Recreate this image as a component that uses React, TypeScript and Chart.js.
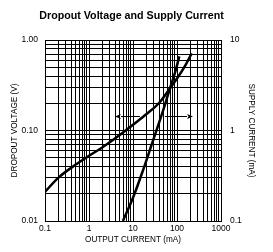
import React, { useEffect, useRef } from "react";
import { Chart, registerables } from "chart.js";

Chart.register(...registerables);

const chartTitle = "Dropout Voltage and Supply Current";
const xAxisTitle = "OUTPUT CURRENT (mA)";
const leftAxisTitle = "DROPOUT VOLTAGE (V)";
const rightAxisTitle = "SUPPLY CURRENT (mA)";

const xTickLabels = ["0.1", "1", "10", "100", "1000"];
const leftTickLabels = ["0.01", "0.10", "1.00"];
const rightTickLabels = ["0.1", "1", "10"];

// Dropout voltage (V) vs output current (mA) — left axis
const dropoutCurrent = [0.1, 0.2, 0.5, 1, 2, 5, 10, 20, 40, 70, 100, 150, 216];
const dropoutVoltage = [0.021, 0.03, 0.042, 0.0525, 0.065, 0.089, 0.116, 0.151, 0.204, 0.295, 0.375, 0.51, 0.713];

// Supply current (mA) vs output current (mA) — right axis
const supplyLoad = [5.9, 10.2, 17.1, 26.6, 48.8, 69.3, 90.1, 113];
const supplyCurrent = [0.1, 0.185, 0.37, 0.7, 1.69, 2.93, 4.35, 6.6];

// Arrows: level on the left axis, from/to on the x axis
const arrowLevel = [0.145, 0.145];
const arrowFrom = [14.4, 53];
const arrowTo = [3.9, 231];

const FONT = "'Liberation Sans', Arial, sans-serif";

function logTicks(labels: string[]) {
  const decades = labels.map(parseFloat);
  const out: number[] = [];
  for (let i = 0; i < decades.length - 1; i++) {
    for (let m = 1; m < 10; m++) out.push(+(decades[i] * m).toPrecision(6));
  }
  out.push(decades[decades.length - 1]);
  return out;
}

function labelFor(labels: string[]) {
  const vals = labels.map(parseFloat);
  return (value: any) => {
    const v = Number(value);
    const i = vals.findIndex((d) => Math.abs(d - v) / d < 1e-6);
    return i >= 0 ? labels[i] : "";
  };
}

const arrowPlugin = {
  id: "arrows",
  afterDatasetsDraw(chart: any) {
    const { ctx, scales } = chart;
    const xs = scales.x;
    const ys = scales.y;
    ctx.save();
    ctx.strokeStyle = "#000";
    ctx.fillStyle = "#000";
    ctx.lineWidth = 1;
    for (let i = 0; i < arrowLevel.length; i++) {
      const y = Math.round(ys.getPixelForValue(arrowLevel[i])) + 0.5;
      const x0 = xs.getPixelForValue(arrowFrom[i]);
      const x1 = xs.getPixelForValue(arrowTo[i]);
      const dir = x1 > x0 ? 1 : -1;
      const len = 6;
      ctx.beginPath();
      ctx.moveTo(x0, y);
      ctx.lineTo(x1 - dir * len, y);
      ctx.stroke();
      ctx.beginPath();
      ctx.moveTo(x1, y);
      ctx.lineTo(x1 - dir * len, y - 2.5);
      ctx.lineTo(x1 - dir * (len - 1.5), y);
      ctx.lineTo(x1 - dir * len, y + 2.5);
      ctx.closePath();
      ctx.fill();
    }
    ctx.restore();
  },
};

export default function App() {
  const ref = useRef<HTMLCanvasElement | null>(null);

  useEffect(() => {
    if (!ref.current) return;
    Chart.defaults.font.family = FONT;
    Chart.defaults.color = "#000";

    const gridOpts = { color: "#000", lineWidth: 1, drawTicks: false };
    const borderOpts = { color: "#000", width: 1 };
    const tickFont = { family: FONT, size: 8.5 };
    const axisTitleFont = { family: FONT, size: 8.2 };

    const chart = new Chart(ref.current, {
      type: "line",
      data: {
        datasets: [
          {
            label: "Dropout Voltage",
            data: dropoutCurrent.map((x, i) => ({ x, y: dropoutVoltage[i] })),
            yAxisID: "y",
            borderColor: "#000",
            borderWidth: 2.5,
            pointRadius: 0,
            cubicInterpolationMode: "monotone",
            fill: false,
          },
          {
            label: "Supply Current",
            data: supplyLoad.map((x, i) => ({ x, y: supplyCurrent[i] })),
            yAxisID: "y2",
            borderColor: "#000",
            borderWidth: 2.5,
            pointRadius: 0,
            cubicInterpolationMode: "monotone",
            fill: false,
          },
        ],
      },
      options: {
        animation: false,
        responsive: false,
        devicePixelRatio: 1,
        layout: { padding: { left: 0, right: 10, top: 0, bottom: 0 } },
        plugins: {
          legend: { display: false },
          tooltip: { enabled: false },
          title: {
            display: true,
            text: chartTitle,
            color: "#000",
            font: { family: FONT, size: 10.7, weight: "bold" },
            padding: { top: 9.5, bottom: 17.66 },
          },
        },
        scales: {
          x: {
            type: "logarithmic",
            position: "bottom",
            min: 0.1,
            max: 1000,
            grid: gridOpts,
            border: borderOpts,
            afterBuildTicks: (s: any) => {
              s.ticks = logTicks(xTickLabels).map((v) => ({ value: v }));
            },
            afterFit: (s: any) => {
              s.height = 31;
            },
            ticks: {
              autoSkip: false,
              maxRotation: 0,
              padding: 3,
              color: "#000",
              font: tickFont,
              callback: labelFor(xTickLabels),
            },
            title: {
              display: true,
              text: xAxisTitle,
              color: "#000",
              font: axisTitleFont,
              padding: { top: 0, bottom: 7.1 },
            },
          },
          y: {
            type: "logarithmic",
            position: "left",
            min: 0.01,
            max: 1,
            grid: gridOpts,
            border: borderOpts,
            afterBuildTicks: (s: any) => {
              s.ticks = logTicks(leftTickLabels).map((v) => ({ value: v }));
            },
            afterFit: (s: any) => {
              s.width = 45;
            },
            ticks: {
              autoSkip: false,
              padding: 7,
              color: "#000",
              font: tickFont,
              callback: labelFor(leftTickLabels),
            },
            title: {
              display: true,
              text: leftAxisTitle,
              color: "#000",
              font: axisTitleFont,
              padding: { top: 9.6, bottom: 0 },
            },
          },
          y2: {
            type: "logarithmic",
            position: "right",
            min: 0.1,
            max: 10,
            grid: { ...gridOpts, drawOnChartArea: false },
            border: borderOpts,
            afterBuildTicks: (s: any) => {
              s.ticks = logTicks(rightTickLabels).map((v) => ({ value: v }));
            },
            afterFit: (s: any) => {
              s.width = 42;
            },
            ticks: {
              autoSkip: false,
              padding: 9,
              color: "#000",
              font: tickFont,
              callback: labelFor(rightTickLabels),
            },
            title: {
              display: true,
              text: rightAxisTitle,
              color: "#000",
              font: axisTitleFont,
              padding: { top: 6.6, bottom: 0 },
            },
          },
        },
      } as any,
      plugins: [arrowPlugin],
    });
    return () => chart.destroy();
  }, []);

  return (
    <canvas
      ref={ref}
      width={273}
      height={252}
      style={{ position: "absolute", left: 0, top: 0, width: 273, height: 252, background: "#fff" }}
    />
  );
}
